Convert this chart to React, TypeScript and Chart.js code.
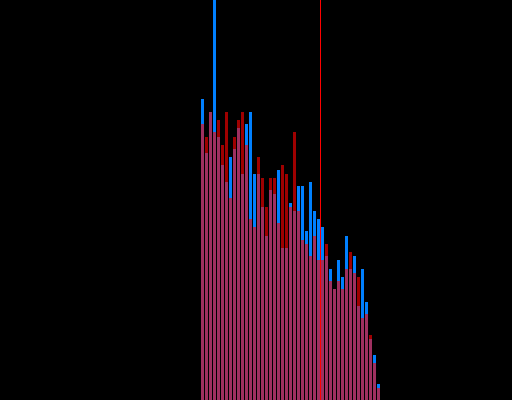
import React, { useEffect, useRef } from "react";
import { Chart, registerables } from "chart.js";

Chart.register(...registerables);

// Histogram bins (index of first populated bin and total bin count)
const FIRST_BIN = 50;
const BIN_COUNT = 128;
const MARKER_BIN = 79.5;
const Y_MAX = 400;

const blueValues = [
  301, 247, 288, 400, 263, 235, 218, 243, 251, 272, 226, 276, 288, 226, 226,
  193, 164, 210, 206, 230, 152, 152, 197, 189, 214, 214, 169, 218, 189, 181,
  173, 144, 131, 111, 140, 123, 164, 131, 144, 94, 131, 98, 61, 45, 16,
];
const redValues = [
  276, 263, 288, 268, 280, 255, 288, 202, 263, 280, 288, 255, 181, 173, 243,
  222, 193, 222, 222, 177, 235, 226, 193, 268, 189, 160, 156, 144, 164, 140,
  140, 156, 119, 111, 119, 111, 131, 148, 127, 123, 82, 86, 65, 37, 12,
];

export default function App() {
  const ref = useRef<HTMLCanvasElement | null>(null);
  useEffect(() => {
    document.body.style.margin = "0";
    document.body.style.background = "#000";
    const blueData = blueValues.map((v, i) => ({ x: FIRST_BIN + i, y: v }));
    const redData = redValues.map((v, i) => ({ x: FIRST_BIN + i, y: v }));
    const chart = new Chart(ref.current as HTMLCanvasElement, {
      type: "bar",
      data: {
        datasets: [
          {
            type: "line",
            label: "marker",
            data: [
              { x: MARKER_BIN, y: 0 },
              { x: MARKER_BIN, y: Y_MAX },
            ],
            borderColor: "rgb(255,0,0)",
            borderWidth: 1,
            pointRadius: 0,
            order: 1,
          } as any,
          {
            label: "red",
            data: redData,
            backgroundColor: "rgba(255,0,0,0.625)",
            borderWidth: 0,
            barThickness: 3,
            inflateAmount: 0,
            grouped: false,
            order: 2,
          },
          {
            label: "blue",
            data: blueData,
            backgroundColor: "rgb(0,128,255)",
            borderWidth: 0,
            barThickness: 3,
            inflateAmount: 0,
            grouped: false,
            order: 3,
          },
        ],
      },
      options: {
        animation: false,
        responsive: true,
        maintainAspectRatio: false,
        layout: { padding: 0 },
        plugins: { legend: { display: false }, tooltip: { enabled: false } },
        scales: {
          x: {
            type: "linear",
            display: false,
            min: -0.625,
            max: BIN_COUNT - 0.625,
            offset: false,
          },
          y: { display: false, min: 0, max: Y_MAX },
        },
      },
    });
    return () => chart.destroy();
  }, []);
  return (
    <div
      style={{
        position: "fixed",
        left: 0,
        top: 0,
        width: 512,
        height: 400,
        background: "#000",
      }}
    >
      <canvas ref={ref} />
    </div>
  );
}
